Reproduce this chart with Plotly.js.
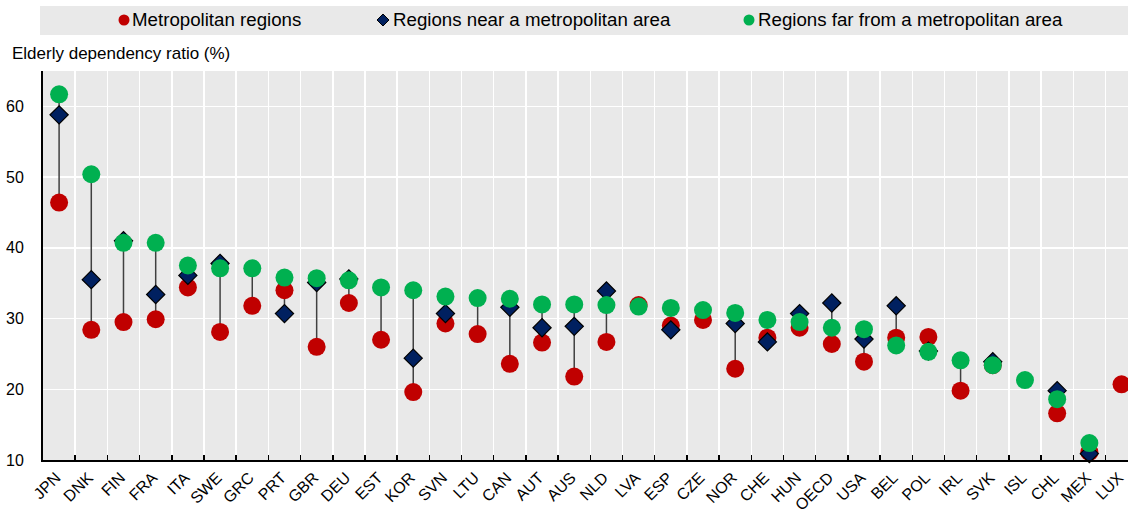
<!DOCTYPE html>
<html>
<head>
<meta charset="utf-8">
<script src="https://cdn.plot.ly/plotly-3.0.1.min.js"></script>
<style>html,body{margin:0;padding:0;background:#fff;}#chart{width:1128px;height:513px;}</style>
</head>
<body>
<div id="chart"></div>
<script>
var categories = ["JPN","DNK","FIN","FRA","ITA","SWE","GRC","PRT","GBR","DEU","EST","KOR","SVN","LTU","CAN","AUT","AUS","NLD","LVA","ESP","CZE","NOR","CHE","HUN","OECD","USA","BEL","POL","IRL","SVK","ISL","CHL","MEX","LUX"];
var metropolitan = [46.4,28.4,29.5,29.9,34.4,28.1,31.8,34.0,26.0,32.2,27.0,19.6,29.3,27.8,23.6,26.6,21.8,26.7,31.9,29.0,29.8,22.9,27.3,28.7,26.4,23.9,27.3,27.4,19.8,23.4,null,16.6,11.1,20.7];
var nearMetro = [58.8,35.5,41.0,33.4,36.1,37.8,null,30.7,35.1,35.6,null,24.4,30.7,null,31.6,28.7,28.9,33.9,null,28.4,null,29.3,26.7,30.7,32.2,27.1,31.8,25.4,null,23.9,null,19.8,10.9,null];
var farMetro = [61.7,50.4,40.7,40.7,37.5,37.1,37.1,35.8,35.7,35.4,34.4,34.0,33.1,32.9,32.8,32.0,32.0,31.9,31.7,31.5,31.2,30.8,29.8,29.5,28.7,28.5,26.2,25.3,24.1,23.4,21.3,18.6,12.4,null];
var seriesNames = ["Metropolitan regions","Regions near a metropolitan area","Regions far from a metropolitan area"];

var RED = "#c00000", NAVY = "#002060", GREEN = "#00b050";

// connecting range lines (min to max per category)
var lx = [], ly = [];
categories.forEach(function(c, i){
  var vals = [metropolitan[i], nearMetro[i], farMetro[i]].filter(function(v){return v !== null;});
  if (vals.length > 1) {
    lx.push(c, c, null);
    ly.push(Math.min.apply(null, vals), Math.max.apply(null, vals), null);
  }
});

var traces = [
  {x: lx, y: ly, mode: "lines", line: {color: "#404040", width: 1.5}, showlegend: false, hoverinfo: "skip", connectgaps: false},
  {x: categories, y: metropolitan, mode: "markers", name: seriesNames[0], showlegend: false, cliponaxis: false,
   marker: {symbol: "circle", size: 18, color: RED}},
  {x: categories, y: nearMetro, mode: "markers", name: seriesNames[1], showlegend: false, cliponaxis: false,
   marker: {symbol: "diamond", size: 14, color: NAVY, line: {color: "#000", width: 1.2}}},
  {x: categories, y: farMetro, mode: "markers", name: seriesNames[2], showlegend: false, cliponaxis: false,
   marker: {symbol: "circle", size: 18, color: GREEN}}
];

var W = 1085, H = 389, L = 43, B = 460;
function px(x){ return (x - L) / W; }
function py(y){ return (B - y) / H; }

var legendY = py(20);
var shapes = [
  {type: "rect", xref: "paper", yref: "paper", x0: px(40), x1: 1.02, y0: py(35), y1: py(6), fillcolor: "#e9e9e9", line: {width: 0}, layer: "below"},
  {type: "circle", xref: "paper", yref: "paper", xsizemode: "pixel", ysizemode: "pixel", xanchor: px(124), yanchor: legendY,
   x0: -5.5, x1: 5.5, y0: -5.5, y1: 5.5, fillcolor: RED, line: {width: 0}},
  {type: "path", xref: "paper", yref: "paper", xsizemode: "pixel", ysizemode: "pixel", xanchor: px(383), yanchor: legendY,
   path: "M 0 6 L 6 0 L 0 -6 L -6 0 Z", fillcolor: NAVY, line: {color: "#000", width: 1}},
  {type: "circle", xref: "paper", yref: "paper", xsizemode: "pixel", ysizemode: "pixel", xanchor: px(749), yanchor: legendY,
   x0: -5.5, x1: 5.5, y0: -5.5, y1: 5.5, fillcolor: GREEN, line: {width: 0}}
];

var legFont = {family: "Liberation Sans, Arial, sans-serif", size: 18.7, color: "#000"};
var annotations = [
  {xref: "paper", yref: "paper", x: px(130), y: legendY, xanchor: "left", yanchor: "middle", text: seriesNames[0], showarrow: false, font: legFont},
  {xref: "paper", yref: "paper", x: px(391), y: legendY, xanchor: "left", yanchor: "middle", text: seriesNames[1], showarrow: false, font: legFont},
  {xref: "paper", yref: "paper", x: px(756), y: legendY, xanchor: "left", yanchor: "middle", text: seriesNames[2], showarrow: false, font: legFont},
  {xref: "paper", yref: "paper", x: px(10), y: py(53), xanchor: "left", yanchor: "middle", text: "Elderly dependency ratio (%)", showarrow: false,
   font: {family: "Liberation Sans, Arial, sans-serif", size: 17, color: "#000"}}
];

var layout = {
  width: 1128, height: 513,
  margin: {l: 43, r: 0, t: 71, b: 53, pad: 0},
  paper_bgcolor: "#fff", plot_bgcolor: "#e9e9e9",
  font: {family: "Liberation Sans, Arial, sans-serif", color: "#000"},
  showlegend: false,
  xaxis: {
    type: "category", categoryorder: "array", categoryarray: categories,
    range: [-0.5, 33.2], tickson: "boundaries",
    showgrid: true, gridcolor: "#fff", gridwidth: 1.5,
    ticks: "inside", ticklen: 5, tickwidth: 1.5, tickcolor: "#000",
    showline: true, linecolor: "#000", linewidth: 2,
    tickangle: -45, tickfont: {size: 16, color: "#000"}, ticklabelstandoff: 0, ticklabelshift: -3, fixedrange: true
  },
  yaxis: {
    range: [10, 65], tick0: 10, dtick: 10,
    showgrid: true, gridcolor: "#fff", gridwidth: 1.5, zeroline: false,
    ticks: "", showline: true, linecolor: "#000", linewidth: 2,
    tickfont: {size: 16, color: "#000"}, ticklabelstandoff: 14, fixedrange: true
  },
  shapes: shapes,
  annotations: annotations
};

Plotly.newPlot("chart", traces, layout, {displayModeBar: false, staticPlot: true});
</script>
</body>
</html>
